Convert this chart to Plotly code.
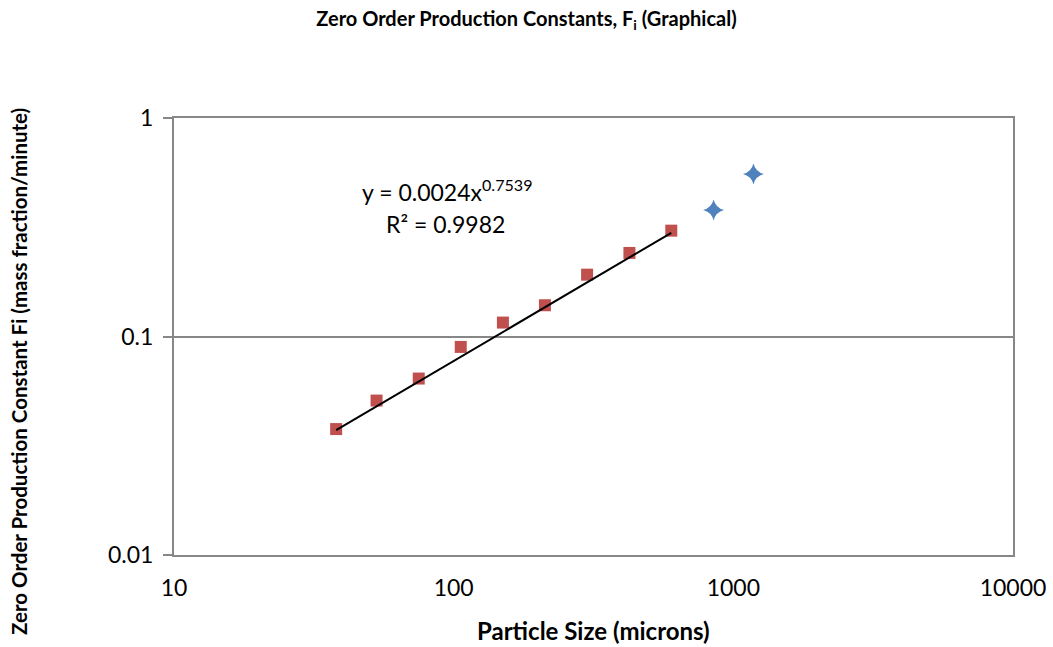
import numpy as np
import plotly.graph_objects as go

# Sieve sizes (microns) and zero order production constants
fit_sizes = [38, 53, 75, 106, 150, 212, 300, 425, 600]
fit_rates = [0.0377, 0.0509, 0.0642, 0.0896, 0.1158, 0.139, 0.1919, 0.2412, 0.3051]
coarse_sizes = [850, 1180]
coarse_rates = [0.3795, 0.5545]

# Power-law trendline y = a * x^b
fit_a = 0.0024
fit_b = 0.7539
fit_r2 = 0.9982

x_ticks = [10, 100, 1000, 10000]
y_ticks = [0.01, 0.1, 1]

FONT = "Lato"
GRID = "#878787"

# Plot area in pixels
plot_l, plot_r, plot_t, plot_b = 174, 1013, 118, 555
W, H = 1053, 647


def to_paper(px, py):
    return (px - plot_l) / (plot_r - plot_l), (plot_b - py) / (plot_b - plot_t)


trend_x = np.logspace(np.log10(fit_sizes[0]), np.log10(fit_sizes[-1]), 60)
trend_y = fit_a * trend_x ** fit_b

fig = go.Figure()
fig.add_trace(go.Scatter(
    x=coarse_sizes, y=coarse_rates, mode="markers",
    marker=dict(symbol="star-diamond", size=15, color="#4F81BD", line=dict(width=0)),
    showlegend=False,
))
fig.add_trace(go.Scatter(
    x=fit_sizes, y=fit_rates, mode="markers",
    marker=dict(symbol="square", size=12, color="#C0504D", line=dict(width=0)),
    showlegend=False,
))
fig.add_trace(go.Scatter(
    x=trend_x, y=trend_y, mode="lines",
    line=dict(color="black", width=2),
    showlegend=False,
))

fig.update_layout(
    width=W, height=H,
    margin=dict(l=plot_l, r=W - plot_r, t=plot_t, b=H - plot_b),
    paper_bgcolor="white", plot_bgcolor="white",
    title=dict(
        text="<b>Zero Order Production Constants, F<sub>i</sub> (Graphical)</b>",
        x=0.5, xanchor="center", y=1 - 19 / H, yanchor="middle",
        font=dict(family=FONT, size=20, color="black"),
    ),
    xaxis=dict(
        type="log", range=[1, 4], automargin=False,
        tickvals=x_ticks, ticktext=[str(v) for v in x_ticks],
        showgrid=False, zeroline=False,
        showline=True, linecolor=GRID, linewidth=2, mirror=True,
        ticks="", ticklabelstandoff=11,
        tickfont=dict(family=FONT, size=23, color="black"),
    ),
    yaxis=dict(
        type="log", range=[-2, 0], automargin=False,
        tickvals=y_ticks, ticktext=["0.01", "0.1", "1"],
        showgrid=True, gridcolor=GRID, gridwidth=2, zeroline=False,
        showline=True, linecolor=GRID, linewidth=2, mirror=True,
        ticks="outside", ticklen=9, tickcolor=GRID, tickwidth=2,
        ticklabelstandoff=5,
        tickfont=dict(family=FONT, size=23, color="black"),
    ),
)

# Axis titles
tx, ty = to_paper(593, 630)
fig.add_annotation(
    x=tx, y=ty, xref="paper", yref="paper", showarrow=False,
    xanchor="center", yanchor="middle",
    text="<b>Particle Size (microns)</b>",
    font=dict(family=FONT, size=24, color="black"),
)
tx, ty = to_paper(19, 372)
fig.add_annotation(
    x=tx, y=ty, xref="paper", yref="paper", showarrow=False, textangle=-90,
    xanchor="center", yanchor="middle",
    text="<b>Zero Order Production Constant Fi (mass fraction/minute)</b>",
    font=dict(family=FONT, size=20.5, color="black"),
)

# Trendline equation labels
for txt, px, py in [
    (f"y = {fit_a}x<sup>{fit_b}</sup>", 447, 190),
    (f"R² = {fit_r2}", 445, 224),
]:
    x, y = to_paper(px, py)
    fig.add_annotation(
        x=x, y=y, xref="paper", yref="paper", showarrow=False, text=txt,
        xanchor="center", yanchor="middle",
        font=dict(family=FONT, size=23, color="black"),
    )

fig.write_html("out.html")
